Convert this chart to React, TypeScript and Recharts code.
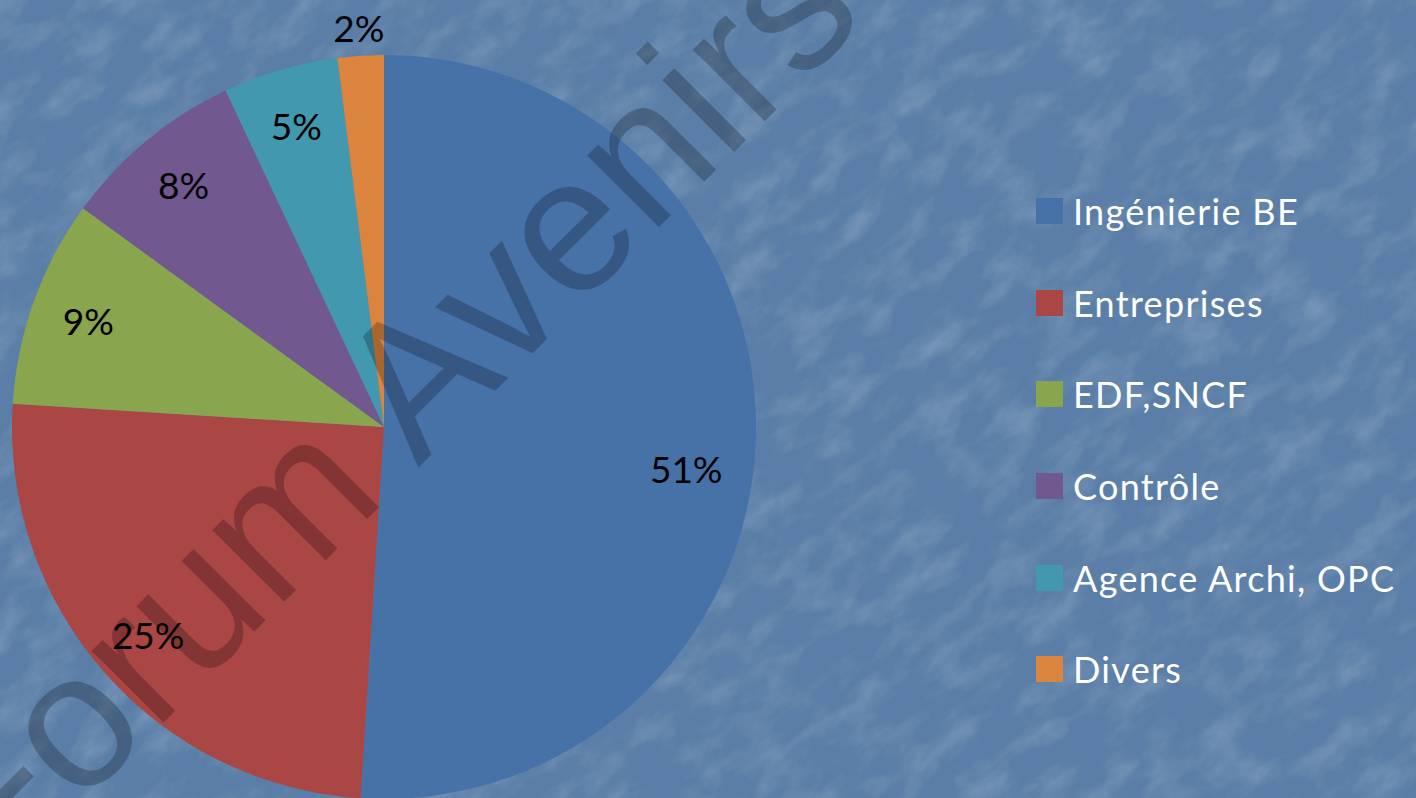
import React from 'react';
import { PieChart, Pie, Cell, Legend } from 'recharts';

const categories = ['Ingénierie BE', 'Entreprises', 'EDF,SNCF', 'Contrôle', 'Agence Archi, OPC', 'Divers'];
const shares = [51, 25, 9, 8, 5, 2];
const colors = ['#4672A8', '#AA4644', '#89A54E', '#71588F', '#4198AF', '#DB843D'];
const watermark = 'Forum Avenirs';

const data = categories.map((name, i) => ({ name, value: shares[i] }));

const RAD = Math.PI / 180;
const W = 1416;
const H = 798;

const renderLabel = (props: any) => {
  const { cx, cy, midAngle, outerRadius, percent, value } = props;
  let r = outerRadius * 0.845;
  let a = midAngle;
  if (percent < 0.03) r = outerRadius * 1.075;
  if (percent > 0.5) { r = outerRadius * 0.82; a = midAngle - 6; }
  const x = cx + r * Math.cos(-a * RAD);
  const y = cy + r * Math.sin(-a * RAD);
  return (
    <text x={x} y={y} fill="#000" textAnchor="middle" dominantBaseline="central"
      style={{ fontFamily: 'Lato, "Open Sans", sans-serif', fontSize: 37 }}>
      {`${value}%`}
    </text>
  );
};

const renderLegend = () => (
  <div style={{ display: 'flex', flexDirection: 'column' }}>
    {categories.map((name, i) => (
      <div key={name} style={{ height: 91.7, display: 'flex', alignItems: 'center' }}>
        <div style={{ width: 27, height: 26, background: colors[i], marginRight: 10, flex: 'none' }} />
        <span style={{ color: '#fff', fontFamily: 'Lato, "Open Sans", sans-serif', fontSize: 36, letterSpacing: 1.3, whiteSpace: 'nowrap' }}>
          {name}
        </span>
      </div>
    ))}
  </div>
);

export default function App() {
  return (
    <div style={{ position: 'absolute', left: 0, top: 0, width: W, height: H, overflow: 'hidden', background: '#5a7ea7' }}>
      <svg width={W} height={H} style={{ position: 'absolute', left: 0, top: 0 }}>
        <defs>
          <filter id="tex" x="0" y="0" width="100%" height="100%">
            <feTurbulence type="fractalNoise" baseFrequency="0.02 0.035" numOctaves={5} seed={11} />
            <feColorMatrix type="matrix" values="0 0 0 0 1  0 0 0 0 1  0 0 0 0 1  0.35 0 0 0 -0.15" />
          </filter>
          <filter id="tex2" x="0" y="0" width="100%" height="100%">
            <feTurbulence type="fractalNoise" baseFrequency="0.06" numOctaves={3} seed={3} />
            <feColorMatrix type="matrix" values="0 0 0 0 0.1  0 0 0 0 0.2  0 0 0 0 0.35  -0.3 0 0 0 0.17" />
          </filter>
        </defs>
        <g transform={`rotate(-40 ${W / 2} ${H / 2})`}>
          <rect x={-400} y={-400} width={W + 800} height={H + 800} filter="url(#tex)" />
        </g>
        <rect x={0} y={0} width={W} height={H} filter="url(#tex2)" />
      </svg>
      <div style={{ position: 'absolute', left: 0, top: 0 }}>
        <PieChart width={W} height={H} margin={{ top: 0, right: 0, bottom: 0, left: 0 }}>
          <Pie
            data={data}
            dataKey="value"
            nameKey="name"
            cx={384}
            cy={427}
            outerRadius={372}
            startAngle={90}
            endAngle={-270}
            stroke="none"
            label={renderLabel}
            labelLine={false}
            isAnimationActive={false}
          >
            {data.map((d, i) => (
              <Cell key={d.name} fill={colors[i]} />
            ))}
          </Pie>
          <Legend
            layout="vertical"
            align="right"
            verticalAlign="top"
            content={renderLegend}
            wrapperStyle={{ left: 1036, top: 165, width: 380, right: 'auto' }}
          />
        </PieChart>
      </div>
      <svg width={W} height={H} style={{ position: 'absolute', left: 0, top: 0, pointerEvents: 'none' }}>
        <text x={432} y={454} textAnchor="middle" transform="rotate(-45 432 454)"
          fill="#000" fillOpacity={0.23}
          style={{ fontFamily: '"Liberation Sans", Arial, sans-serif', fontSize: 192 }}>
          {watermark}
        </text>
      </svg>
    </div>
  );
}
